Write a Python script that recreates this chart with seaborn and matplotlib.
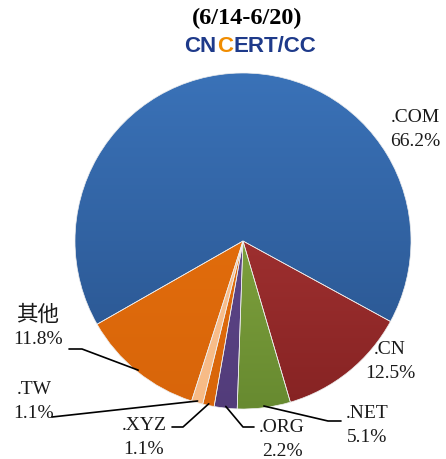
import numpy as np
import matplotlib.pyplot as plt
from matplotlib.colors import LinearSegmentedColormap
import seaborn as sns

# weekly share of domains (6/14-6/20)
labels = [".COM", ".CN", ".NET", ".ORG", ".XYZ", ".TW", "其他"]
shares = [66.2, 12.5, 5.1, 2.2, 1.1, 1.1, 11.8]
title = "(6/14-6/20)"

top_colors = ["#3a72b8", "#b43b3b", "#94b649", "#684f95", "#ea730e", "#fcc89b", "#ea730e"]
bottom_colors = ["#28528b", "#862323", "#678a30", "#523c7a", "#d8650a", "#f7ba85", "#d8650a"]

sns.set_theme(style="white")
plt.rcParams["font.family"] = ["Liberation Serif", "Noto Sans CJK SC"]

W, H = 446, 459
CX, CY, R = 243, H - 241, 168


def up(y):
    # pixel row (from top) -> axes y
    return H - y


fig = plt.figure(figsize=(W / 100, H / 100), dpi=100)
ax = fig.add_axes([0, 0, 1, 1])

wedges, _ = ax.pie(shares, colors=top_colors, startangle=209.7, counterclock=False,
                   center=(CX, CY), radius=R,
                   wedgeprops=dict(edgecolor="#eeeeee", linewidth=0.5))

# vertical gradient in every slice
grad = np.linspace(0, 1, 256)[:, None]
for w, c0, c1 in zip(wedges, top_colors, bottom_colors):
    cmap = LinearSegmentedColormap.from_list("g", [c0, c1])
    im = ax.imshow(grad, cmap=cmap, extent=(CX - R, CX + R, CY - R, CY + R),
                   origin="upper", aspect="auto", zorder=0.5)
    im.set_clip_path(w)
    w.set_facecolor("none")

# label layout: text centre, leader elbow and end (pixels from top-left)
layout = {
    ".COM": dict(text=(415, 129)),
    ".CN": dict(text=(390, 361)),
    ".NET": dict(text=(367, 425), path=[(328, 421), (341, 421)]),
    ".ORG": dict(text=(282, 439), path=[(243, 427), (254, 427)]),
    ".XYZ": dict(text=(144, 438), path=[(183, 427), (172, 427)]),
    ".TW": dict(text=(34, 402), path=[(52, 417)]),
    "其他": dict(text=(38, 328), path=[(82, 349), (69, 349)]),
}

for w, lab, val in zip(wedges, labels, shares):
    spec = layout[lab]
    tx, ty = spec["text"]
    cjk = not lab.isascii()
    ax.text(tx, up(ty - 12), lab, ha="center", va="center",
            fontsize=15.5 if cjk else 14, color="#1a1a1a")
    ax.text(tx, up(ty + 12), f"{val:.1f}%", ha="center", va="center",
            fontsize=14, color="#1a1a1a")
    if "path" in spec:
        mid = np.deg2rad((w.theta1 + w.theta2) / 2)
        xs = [CX + R * 0.99 * np.cos(mid)] + [p[0] for p in spec["path"]]
        ys = [CY + R * 0.99 * np.sin(mid)] + [up(p[1]) for p in spec["path"]]
        ax.plot(xs, ys, color="black", linewidth=1.2, zorder=3)

fig.text(247 / W, 1 - 18 / H, title, ha="center", va="center",
         fontsize=17.5, fontweight="bold", color="black")

# logo line
logo_y = 1 - 47 / H
fig.text(216 / W, logo_y, "CN", ha="right", va="center", fontsize=16,
         fontweight="bold", family="Liberation Sans", color="#1e3a8a")
fig.text(225 / W, logo_y, "C", ha="center", va="center", fontsize=16,
         fontweight="bold", family="Liberation Sans", color="#f08c00")
fig.text(234 / W, logo_y, "ERT/CC", ha="left", va="center", fontsize=16,
         fontweight="bold", family="Liberation Sans", color="#1e3a8a")

ax.set_xlim(0, W)
ax.set_ylim(0, H)
ax.set_aspect("equal")
ax.axis("off")

fig.savefig("out.png", dpi=100)
